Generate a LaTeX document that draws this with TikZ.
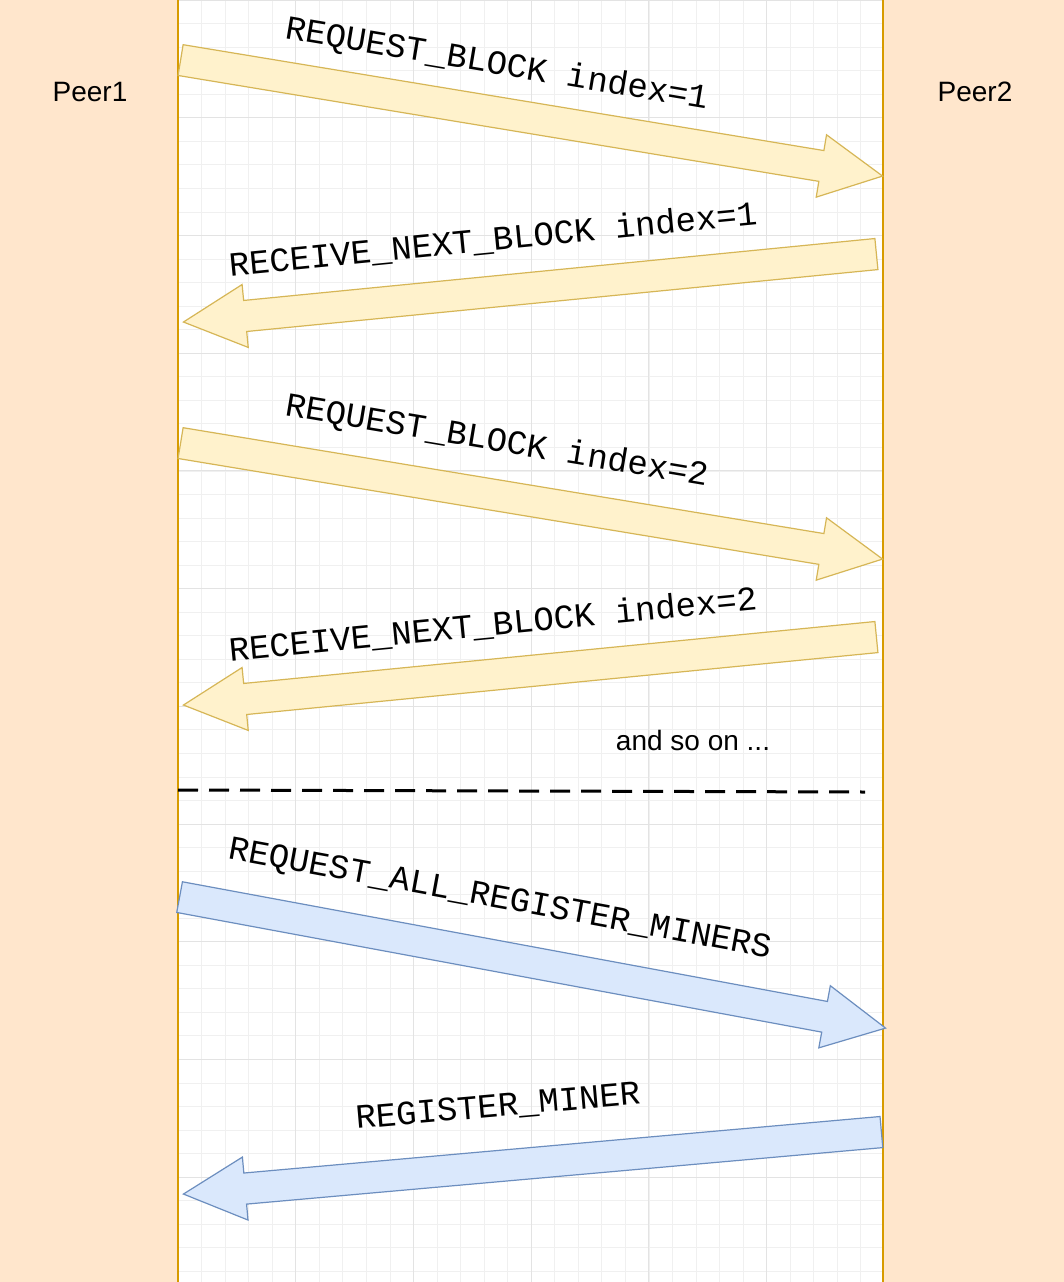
\documentclass[tikz,border=0pt]{standalone}
\usepackage{fontspec}
\setmainfont{Liberation Sans}
\newfontfamily\cour{Liberation Mono}
\usetikzlibrary{shapes.arrows,calc}
\definecolor{peach}{HTML}{FFE6CC}
\definecolor{peachb}{HTML}{D79B00}
\definecolor{yel}{HTML}{FFF2CC}
\definecolor{yelb}{HTML}{D6B656}
\definecolor{blu}{HTML}{DAE8FC}
\definecolor{blub}{HTML}{6C8EBF}
\tikzset{
 col/.style={draw=peachb,fill=peach,line width=1.2pt},
 fat/.style={single arrow,draw,line width=1.2pt,inner sep=0pt,inner ysep=15pt,minimum width=62pt,single arrow head extend=16pt,single arrow tip angle=54,anchor=tail},
 yfat/.style={fat,fill=yel,draw=yelb},
 bfat/.style={fat,fill=blu,draw=blub},
 lbl/.style={font=\cour\fontsize{34}{34}\selectfont},
 peer/.style={font=\fontsize{28}{32}\selectfont}
}
\newcommand\fatarrow[3]{%
 \path let \p1=($(#3)-(#2)$), \n1={atan2(\y1,\x1)}, \n2={veclen(\x1,\y1)} in
 node[#1,rotate=\n1,minimum height=\n2] at (#2) {};}
\begin{document}
\begin{tikzpicture}[x=1pt,y=-1pt]
\useasboundingbox (0,0) rectangle (1064,1282);
\fill[white] (0,0) rectangle (1064,1282);
\foreach \i in {0,...,30} {\draw[gray!12,line width=0.6pt] ({178+\i*23.54},0) -- ({178+\i*23.54},1282);}
\foreach \i in {0,...,55} {\draw[gray!12,line width=0.6pt] (178,{\i*23.54}) -- (883,{\i*23.54});}
\foreach \i in {0,...,6} {\draw[gray!22,line width=0.7pt] ({178+\i*117.7},0) -- ({178+\i*117.7},1282);}
\foreach \i in {0,...,11} {\draw[gray!22,line width=0.7pt] (178,{\i*117.7}) -- (883,{\i*117.7});}
\draw[col] (-2,-2) rectangle (178,1284);
\draw[col] (883,-2) rectangle (1066,1284);
\node[peer] (p1) at (90,92) {Peer1};
\node[peer] (p2) at (975,92) {Peer2};
\coordinate (a1s) at (180,60); \coordinate (a1e) at (882,176);
\coordinate (a2s) at (877,254); \coordinate (a2e) at (184,322);
\coordinate (a3s) at (180,443); \coordinate (a3e) at (882,559);
\coordinate (a4s) at (877,637); \coordinate (a4e) at (184,705);
\coordinate (a5s) at (179,897); \coordinate (a5e) at (885,1028);
\coordinate (a6s) at (882,1132); \coordinate (a6e) at (184,1194);
\fatarrow{yfat}{a1s}{a1e}
\fatarrow{yfat}{a2s}{a2e}
\fatarrow{yfat}{a3s}{a3e}
\fatarrow{yfat}{a4s}{a4e}
\fatarrow{bfat}{a5s}{a5e}
\fatarrow{bfat}{a6s}{a6e}
\node[lbl,rotate=-9.5] (l1) at (497,65) {REQUEST\_BLOCK index=1};
\node[lbl,rotate=5.6] (l2) at (493,240) {RECEIVE\_NEXT\_BLOCK index=1};
\node[lbl,rotate=-9.5] (l3) at (497,442) {REQUEST\_BLOCK index=2};
\node[lbl,rotate=5.6] (l4) at (493,625) {RECEIVE\_NEXT\_BLOCK index=2};
\node[lbl,rotate=-10.4] (l5) at (500,900) {REQUEST\_ALL\_REGISTER\_MINERS};
\node[lbl,rotate=5] (l6) at (498,1107) {REGISTER\_MINER};
\node[peer] (so) at (693,740) {and so on ...};
\coordinate (d1) at (178,790); \coordinate (d2) at (865,792);
\draw[black,line width=3pt,dash pattern=on 20pt off 11pt] (d1) -- (d2);
\end{tikzpicture}
\end{document}
